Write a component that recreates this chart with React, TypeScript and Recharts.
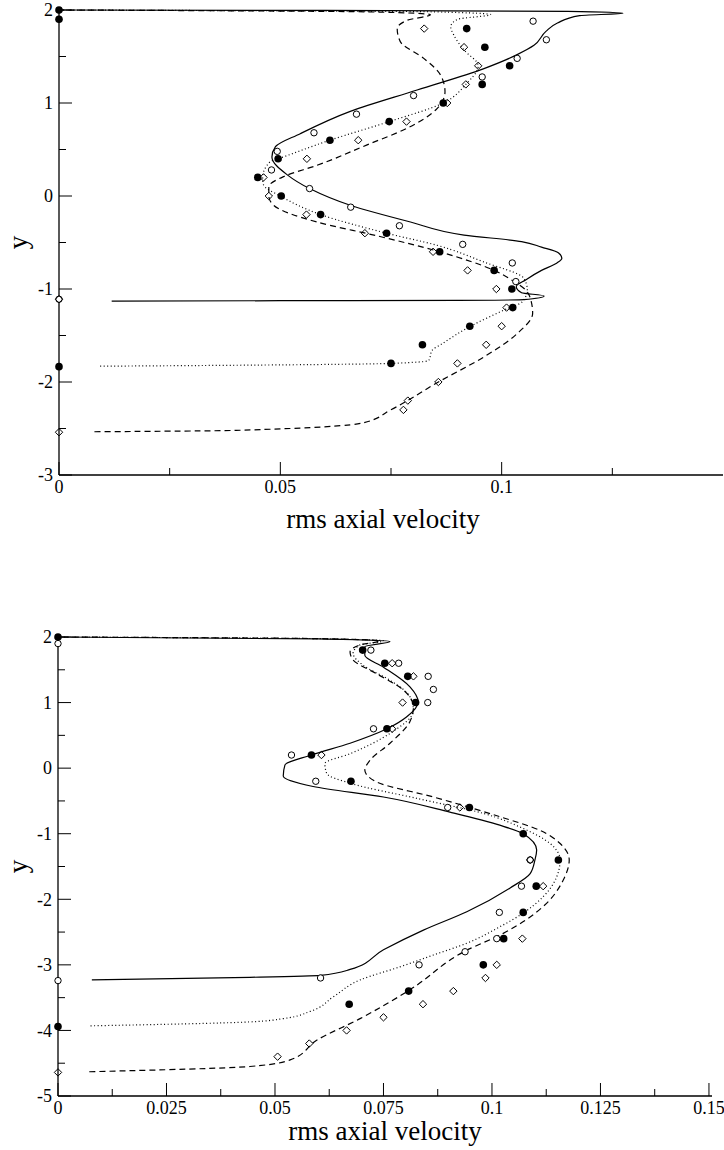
import React from "react";
import { ScatterChart, Scatter, XAxis, YAxis } from "recharts";

type Pt = [number, number];

const FONT = '"Liberation Serif", "Times New Roman", Times, "DejaVu Serif", serif';

// ---- upper panel ----
const topTicksX = [0, 0.025, 0.05, 0.075, 0.1, 0.125];
const topLabelsX = [0, 0.05, 0.1];
const topTicksY = [-3, -2.5, -2, -1.5, -1, -0.5, 0, 0.5, 1, 1.5, 2];
const topLabelsY = [-3, -2, -1, 0, 1, 2];

const topSolid: Pt[] = [
  [0.0119, -1.13], [0.05, -1.126], [0.09, -1.122], [0.105, -1.115], [0.1096, -1.075],
  [0.1045, -1.04], [0.1033, -0.975], [0.1055, -0.9], [0.109, -0.8], [0.1125, -0.72],
  [0.1136, -0.67], [0.1128, -0.61], [0.109, -0.55], [0.1045, -0.49], [0.0915, -0.42],
  [0.0794, -0.28], [0.0658, -0.1], [0.0566, 0.08], [0.0515, 0.23], [0.0481, 0.42],
  [0.0489, 0.53], [0.0545, 0.67], [0.0658, 0.91], [0.0809, 1.14], [0.096, 1.37],
  [0.1035, 1.52], [0.1073, 1.62], [0.11, 1.77], [0.1126, 1.86], [0.1176, 1.94],
  [0.1274, 1.965], [0.115, 1.985], [0.06, 1.995], [0, 2],
];
const topDotted: Pt[] = [
  [0.0093, -1.83], [0.04, -1.82], [0.075, -1.8], [0.0835, -1.77], [0.0843, -1.66],
  [0.0865, -1.59], [0.093, -1.4], [0.1013, -1.21], [0.1046, -1.14], [0.1058, -1.01],
  [0.105, -0.885], [0.096, -0.71], [0.0854, -0.53], [0.074, -0.4], [0.0591, -0.2],
  [0.05, 0], [0.0462, 0.12], [0.046, 0.2], [0.0477, 0.37], [0.0495, 0.4], [0.0612, 0.6],
  [0.0746, 0.8], [0.0868, 1.0], [0.0919, 1.2], [0.0947, 1.4], [0.0915, 1.57],
  [0.0892, 1.73], [0.0885, 1.82], [0.09, 1.9], [0.0975, 1.95], [0.085, 1.98], [0, 2],
];
const topDashed: Pt[] = [
  [0.008, -2.535], [0.04, -2.52], [0.0686, -2.44], [0.0749, -2.3], [0.0857, -2.0],
  [0.096, -1.73], [0.1035, -1.48], [0.107, -1.26], [0.1066, -1.12], [0.1054, -1.01],
  [0.1028, -0.92], [0.0983, -0.8], [0.086, -0.6], [0.072, -0.43], [0.0583, -0.28],
  [0.0485, -0.1], [0.0474, 0], [0.0474, 0.1], [0.0508, 0.21], [0.0583, 0.33],
  [0.0696, 0.55], [0.0787, 0.73], [0.0854, 0.94], [0.0872, 1.12], [0.0862, 1.3],
  [0.0824, 1.48], [0.0771, 1.66], [0.0764, 1.8], [0.0787, 1.89], [0.0839, 1.95],
  [0.07, 1.98], [0, 2],
];
const topFilled: Pt[] = [
  [0, 2], [0, 1.9], [0.0921, 1.8], [0.0962, 1.6], [0.1018, 1.4], [0.0956, 1.2],
  [0.0868, 1.0], [0.0746, 0.8], [0.0612, 0.6], [0.0495, 0.4], [0.0449, 0.2], [0.0502, 0],
  [0.0591, -0.2], [0.074, -0.4], [0.086, -0.6], [0.0983, -0.8], [0.1023, -1.0],
  [0.1025, -1.2], [0.0928, -1.4], [0.0821, -1.6], [0.075, -1.8], [0, -1.835],
];
const topOpen: Pt[] = [
  [0.1071, 1.88], [0.1101, 1.68], [0.1035, 1.48], [0.0956, 1.28], [0.0801, 1.08],
  [0.0672, 0.88], [0.0576, 0.68], [0.0493, 0.48], [0.048, 0.28], [0.0566, 0.08],
  [0.0659, -0.12], [0.0769, -0.32], [0.0912, -0.52], [0.1024, -0.72], [0.1032, -0.92],
  [0, -1.11],
];
const topDiamond: Pt[] = [
  [0.0825, 1.8], [0.0915, 1.6], [0.0947, 1.4], [0.0919, 1.2], [0.0877, 1.0],
  [0.0785, 0.8], [0.0676, 0.6], [0.056, 0.4], [0.0462, 0.2], [0.0474, 0], [0.0559, -0.2],
  [0.0691, -0.4], [0.0845, -0.6], [0.0923, -0.8], [0.0988, -1.0], [0.1011, -1.2],
  [0.1, -1.4], [0.0965, -1.6], [0.09, -1.8], [0.0857, -2.0], [0.0788, -2.2],
  [0.0778, -2.3], [0, -1.11], [0, -2.54],
];

// ---- lower panel ----
const botTicksX = [0, 0.0125, 0.025, 0.0375, 0.05, 0.0625, 0.075, 0.0875, 0.1, 0.1125, 0.125, 0.1375, 0.15];
const botLabelsX = [0, 0.025, 0.05, 0.075, 0.1, 0.125, 0.15];
const botTicksY = [-5, -4.5, -4, -3.5, -3, -2.5, -2, -1.5, -1, -0.5, 0, 0.5, 1, 1.5, 2];
const botLabelsY = [-5, -4, -3, -2, -1, 0, 1, 2];

const botSolid: Pt[] = [
  [0.0078, -3.23], [0.0442, -3.19], [0.0605, -3.16], [0.0673, -3.07], [0.075, -2.77],
  [0.0842, -2.47], [0.0942, -2.19], [0.1041, -1.83], [0.1088, -1.61], [0.1099, -1.4],
  [0.1103, -1.25], [0.1072, -1.0], [0.1018, -0.87], [0.0903, -0.67], [0.075, -0.44],
  [0.0588, -0.28], [0.0519, -0.12], [0.0523, 0.05], [0.0584, 0.2], [0.0673, 0.38],
  [0.0758, 0.6], [0.0803, 0.78], [0.083, 1.01], [0.0811, 1.24], [0.075, 1.54],
  [0.0707, 1.72], [0.0707, 1.85], [0.0765, 1.93], [0.06, 1.97], [0, 2],
];
const botDotted: Pt[] = [
  [0.0075, -3.93], [0.0442, -3.87], [0.0519, -3.82], [0.0581, -3.71], [0.0634, -3.49],
  [0.0696, -3.23], [0.0788, -3.03], [0.0865, -2.85], [0.0942, -2.67], [0.1018, -2.42],
  [0.1072, -2.21], [0.1118, -1.96], [0.1149, -1.66], [0.1157, -1.4], [0.1134, -1.15],
  [0.1072, -0.92], [0.098, -0.69], [0.0826, -0.46], [0.0673, -0.23], [0.0619, -0.08],
  [0.0615, 0.07], [0.0673, 0.22], [0.0765, 0.53], [0.0819, 0.88], [0.0811, 1.09],
  [0.0765, 1.34], [0.0703, 1.57], [0.068, 1.75], [0.0696, 1.88], [0.075, 1.94],
  [0.06, 1.975], [0, 2],
];
const botDashed: Pt[] = [
  [0.0072, -4.63], [0.0442, -4.55], [0.0535, -4.45], [0.0596, -4.15], [0.0696, -3.82],
  [0.0811, -3.38], [0.0938, -2.79], [0.1026, -2.52], [0.1118, -2.11], [0.1164, -1.71],
  [0.1178, -1.4], [0.1157, -1.15], [0.1111, -0.95], [0.1018, -0.74], [0.0865, -0.44],
  [0.0734, -0.21], [0.0707, -0.03], [0.0719, 0.12], [0.0765, 0.38], [0.0811, 0.71],
  [0.0819, 0.93], [0.0796, 1.19], [0.0734, 1.44], [0.068, 1.65], [0.0673, 1.77],
  [0.0696, 1.88], [0.0742, 1.94], [0.06, 1.975], [0, 2],
];
const botFilled: Pt[] = [
  [0, 2], [0.0702, 1.8], [0.0753, 1.6], [0.0806, 1.4], [0.0824, 1.0], [0.0758, 0.6],
  [0.0584, 0.2], [0.0675, -0.2], [0.0948, -0.6], [0.1072, -1.0], [0.1153, -1.4],
  [0.1102, -1.8], [0.1072, -2.2], [0.1027, -2.6], [0.098, -3.0], [0.0808, -3.4],
  [0.0671, -3.6], [0, -3.94],
];
const botOpen: Pt[] = [
  [0, 1.9], [0.0721, 1.8], [0.0785, 1.6], [0.0853, 1.4], [0.0865, 1.2], [0.0852, 1.0],
  [0.0727, 0.6], [0.0538, 0.2], [0.0594, -0.2], [0.0898, -0.6], [0.1088, -1.4],
  [0.1068, -1.8], [0.1017, -2.2], [0.1011, -2.6], [0.0938, -2.8], [0.0832, -3.0],
  [0.0605, -3.2], [0, -3.24],
];
const botDiamond: Pt[] = [
  [0.077, 1.6], [0.0819, 1.4], [0.0794, 1.0], [0.077, 0.6], [0.0607, 0.2], [0.0926, -0.6],
  [0.1088, -1.4], [0.1118, -1.8], [0.107, -2.6], [0.1011, -3.0], [0.0985, -3.2],
  [0.0911, -3.4], [0.0841, -3.6], [0.075, -3.8], [0.0665, -4.0], [0.0579, -4.2],
  [0.0506, -4.4], [0, -4.64],
];

const pts = (a: Pt[]) => a.map(([x, y]) => ({ x, y }));
const fmt = (v: number) => String(Number(v.toFixed(4)));

const FilledDot = (p: any) => <circle cx={p.cx} cy={p.cy} r={3.8} fill="#000" />;
const OpenDot = (p: any) => (
  <circle cx={p.cx} cy={p.cy} r={3.2} fill="#fff" stroke="#000" strokeWidth={1} />
);
const Diamond = (p: any) => {
  const s = 3.7;
  return (
    <polygon
      points={`${p.cx},${p.cy - s} ${p.cx + s},${p.cy} ${p.cx},${p.cy + s} ${p.cx - s},${p.cy}`}
      fill="none"
      stroke="#000"
      strokeWidth={1}
    />
  );
};
const NoDot = () => <g />;

const labelStyle = { fontFamily: FONT, fontSize: 18, fill: "#000" };

const bottomTick = (labels: number[]) => (p: any) => {
  const v = p.payload.value;
  const major = labels.some((l) => Math.abs(l - v) < 1e-9);
  return (
    <g>
      <line x1={p.x} x2={p.x} y1={p.y} y2={p.y - (major ? 13 : 7)} stroke="#000" />
      {major && (
        <text x={p.x} y={p.y + 18} textAnchor="middle" style={labelStyle}>
          {fmt(v)}
        </text>
      )}
    </g>
  );
};
const topTick = (labels: number[]) => (p: any) => {
  const major = labels.some((l) => Math.abs(l - p.payload.value) < 1e-9);
  return <line x1={p.x} x2={p.x} y1={p.y} y2={p.y + (major ? 13 : 7)} stroke="#000" />;
};
const leftTick = (labels: number[]) => (p: any) => {
  const v = p.payload.value;
  const major = labels.some((l) => Math.abs(l - v) < 1e-9);
  return (
    <g>
      <line x1={p.x} x2={p.x + (major ? 13 : 7)} y1={p.y} y2={p.y} stroke="#000" />
      {major && (
        <text x={p.x - 6} y={p.y} dy="0.35em" textAnchor="end" style={labelStyle}>
          {fmt(v)}
        </text>
      )}
    </g>
  );
};
const rightTick = (labels: number[]) => (p: any) => {
  const major = labels.some((l) => Math.abs(l - p.payload.value) < 1e-9);
  return <line x1={p.x} x2={p.x - (major ? 13 : 7)} y1={p.y} y2={p.y} stroke="#000" />;
};

const titleStyle = { fontFamily: FONT, fontSize: 27, fill: "#000" };

const xTitle = (cx: number, dy: number) => (p: any) => (
  <text x={cx} y={p.viewBox.y + dy} textAnchor="middle" style={titleStyle}>
    rms axial velocity
  </text>
);
const yTitle = (p: any) => {
  const cx = 19;
  const cy = p.viewBox.y + p.viewBox.height / 2;
  return (
    <text
      x={cx}
      y={cy}
      dy="0.3em"
      textAnchor="middle"
      style={titleStyle}
      transform={`rotate(-90 ${cx} ${cy})`}
    >
      y
    </text>
  );
};

type PanelProps = {
  width: number;
  height: number;
  margin: { top: number; right: number; bottom: number; left: number };
  xDomain: [number, number];
  yDomain: [number, number];
  ticksX: number[];
  labelsX: number[];
  ticksY: number[];
  labelsY: number[];
  yAxisWidth: number;
  xAxisHeight: number;
  titleX: number;
  titleDy: number;
  solid: Pt[];
  dotted: Pt[];
  dashed: Pt[];
  filled: Pt[];
  open: Pt[];
  diamond: Pt[];
};

const Panel: React.FC<PanelProps> = (p) => (
  <ScatterChart width={p.width} height={p.height} margin={p.margin}>
    <XAxis
      type="number"
      dataKey="x"
      domain={p.xDomain}
      ticks={p.ticksX}
      interval={0}
      tickSize={0}
      tickMargin={0}
      tickLine={false}
      tick={bottomTick(p.labelsX)}
      axisLine={{ stroke: "#000", strokeWidth: 1.3 }}
      height={p.xAxisHeight}
      label={{ content: xTitle(p.titleX, p.titleDy) }}
    />
    <XAxis
      xAxisId="t"
      orientation="top"
      type="number"
      domain={p.xDomain}
      allowDataOverflow
      ticks={p.ticksX}
      interval={0}
      tickSize={0}
      tickMargin={0}
      tickLine={false}
      tick={topTick(p.labelsX)}
      axisLine={{ stroke: "#000", strokeWidth: 1.3 }}
      height={0}
    />
    <YAxis
      type="number"
      dataKey="y"
      domain={p.yDomain}
      ticks={p.ticksY}
      interval={0}
      tickSize={0}
      tickMargin={0}
      tickLine={false}
      tick={leftTick(p.labelsY)}
      axisLine={{ stroke: "#000", strokeWidth: 1.3 }}
      width={p.yAxisWidth}
      label={{ content: yTitle }}
    />
    <YAxis
      yAxisId="r"
      orientation="right"
      type="number"
      domain={p.yDomain}
      allowDataOverflow
      ticks={p.ticksY}
      interval={0}
      tickSize={0}
      tickMargin={0}
      tickLine={false}
      tick={rightTick(p.labelsY)}
      axisLine={{ stroke: "#000", strokeWidth: 1.3 }}
      width={0}
    />
    <Scatter data={pts(p.solid)} fill="#000" line={{ stroke: "#000", strokeWidth: 1.2 }} lineType="joint" lineJointType="monotoneY" shape={NoDot} isAnimationActive={false} />
    <Scatter data={pts(p.dotted)} fill="#000" line={{ stroke: "#000", strokeWidth: 1.2, strokeDasharray: "1 2.5" }} lineType="joint" lineJointType="monotoneY" shape={NoDot} isAnimationActive={false} />
    <Scatter data={pts(p.dashed)} fill="#000" line={{ stroke: "#000", strokeWidth: 1.2, strokeDasharray: "6 4" }} lineType="joint" lineJointType="monotoneY" shape={NoDot} isAnimationActive={false} />
    <Scatter data={pts(p.filled)} fill="#000" shape={FilledDot} isAnimationActive={false} />
    <Scatter data={pts(p.open)} fill="#fff" shape={OpenDot} isAnimationActive={false} />
    <Scatter data={pts(p.diamond)} fill="#fff" shape={Diamond} isAnimationActive={false} />
  </ScatterChart>
);

export default function App() {
  return (
    <div style={{ position: "absolute", left: 0, top: 0, width: 724, height: 1150, background: "#fff" }}>
      <div style={{ position: "absolute", left: 0, top: 0 }}>
        <Panel
          width={724}
          height={540}
          margin={{ top: 10, right: 1, bottom: 0, left: 0 }}
          xDomain={[0, 0.15]}
          yDomain={[-3, 2]}
          ticksX={topTicksX}
          labelsX={topLabelsX}
          ticksY={topTicksY}
          labelsY={topLabelsY}
          yAxisWidth={59}
          xAxisHeight={65}
          titleX={383}
          titleDy={53}
          solid={topSolid}
          dotted={topDotted}
          dashed={topDashed}
          filled={topFilled}
          open={topOpen}
          diamond={topDiamond}
        />
      </div>
      <div style={{ position: "absolute", left: 0, top: 600 }}>
        <Panel
          width={724}
          height={550}
          margin={{ top: 37, right: 12, bottom: 0, left: 0 }}
          xDomain={[0, 0.1507]}
          yDomain={[-5, 2]}
          ticksX={botTicksX}
          labelsX={botLabelsX}
          ticksY={botTicksY}
          labelsY={botLabelsY}
          yAxisWidth={58}
          xAxisHeight={54}
          titleX={385}
          titleDy={44}
          solid={botSolid}
          dotted={botDotted}
          dashed={botDashed}
          filled={botFilled}
          open={botOpen}
          diamond={botDiamond}
        />
      </div>
    </div>
  );
}
